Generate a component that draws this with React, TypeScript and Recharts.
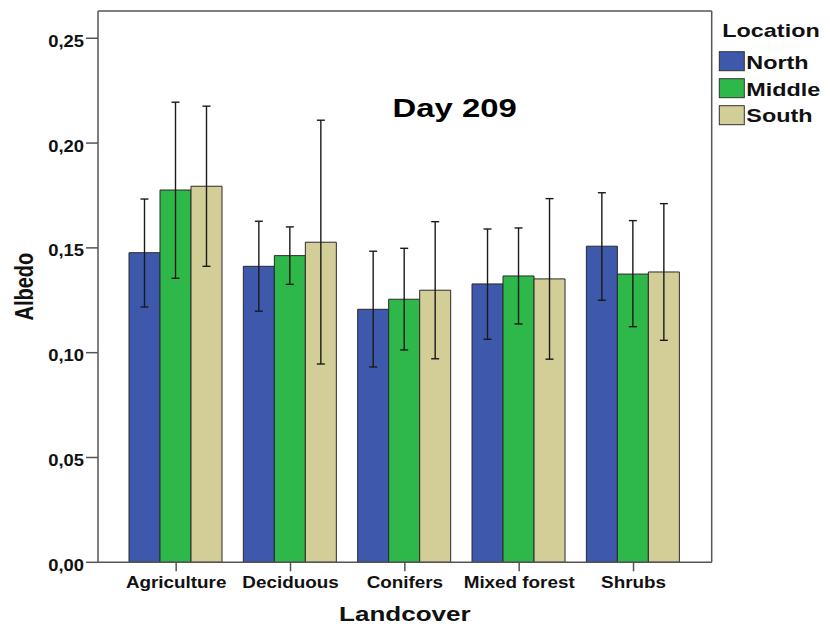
import React from 'react';
import { BarChart, Bar, XAxis, YAxis, ErrorBar } from 'recharts';

const TITLE = 'Day 209';
const X_TITLE = 'Landcover';
const Y_TITLE = 'Albedo';
const LEGEND_TITLE = 'Location';

const categories = ['Agriculture', 'Deciduous', 'Conifers', 'Mixed forest', 'Shrubs'];
const seriesNames = ['North', 'Middle', 'South'];
const seriesColors = ['#3e58ac', '#2fb84a', '#d3ce98'];

const northMean = [0.1477, 0.1412, 0.1207, 0.1328, 0.1508];
const northLow = [0.1218, 0.1198, 0.0932, 0.1064, 0.1250];
const northHigh = [0.1733, 0.1627, 0.1484, 0.1590, 0.1763];

const middleMean = [0.1776, 0.1463, 0.1255, 0.1366, 0.1375];
const middleLow = [0.1355, 0.1326, 0.1013, 0.1137, 0.1124];
const middleHigh = [0.2195, 0.1600, 0.1498, 0.1595, 0.1630];

const southMean = [0.1794, 0.1527, 0.1298, 0.1352, 0.1385];
const southLow = [0.1412, 0.0946, 0.0971, 0.0969, 0.1059];
const southHigh = [0.2176, 0.2109, 0.1625, 0.1735, 0.1711];

const yTicks = [0, 0.05, 0.1, 0.15, 0.2, 0.25];

const means = [northMean, middleMean, southMean];
const lows = [northLow, middleLow, southLow];
const highs = [northHigh, middleHigh, southHigh];

const data = categories.map((name, i) => {
  const row: any = { name };
  seriesNames.forEach((s, j) => {
    row[s] = means[j][i];
    row[s + '_err'] = [means[j][i] - lows[j][i], highs[j][i] - means[j][i]];
  });
  return row;
});

const FONT = '"Liberation Sans", Arial, sans-serif';
const AXIS = '#555';

const XTick = (props: any) => {
  const { x, y, payload } = props;
  return (
    <g transform={`translate(${x},${y})`}>
      <text
        transform="scale(1.11,1)"
        dy={15}
        textAnchor="middle"
        fontFamily={FONT}
        fontWeight="bold"
        fontSize={17}
        fill="#111"
      >
        {payload.value}
      </text>
    </g>
  );
};

const YTick = (props: any) => {
  const { x, y, payload } = props;
  return (
    <g transform={`translate(${x},${y})`}>
      <text
        transform="scale(1.15,1)"
        dy={8.5}
        textAnchor="end"
        fontFamily={FONT}
        fontWeight="bold"
        fontSize={16}
        fill="#111"
      >
        {payload.value.toFixed(2).replace('.', ',')}
      </text>
    </g>
  );
};

const XLabel = (props: any) => {
  const vb = props.viewBox || {};
  const cx = vb.x + vb.width / 2;
  const by = vb.y + 59;
  return (
    <g transform={`translate(${cx},${by})`}>
      <text
        transform="scale(1.24,1)"
        textAnchor="middle"
        fontFamily={FONT}
        fontWeight="bold"
        fontSize={21}
        fill="#111"
      >
        {X_TITLE}
      </text>
    </g>
  );
};

const YLabel = (props: any) => {
  const vb = props.viewBox || {};
  const cy = vb.y + vb.height / 2;
  return (
    <g transform={`translate(33,${cy}) scale(1.25,1) rotate(-90)`}>
      <text textAnchor="middle" fontFamily={FONT} fontWeight="bold" fontSize={20} fill="#111">
        {Y_TITLE}
      </text>
    </g>
  );
};

export default function App() {
  return (
    <div style={{ position: 'absolute', left: 0, top: 0, width: 830, height: 628, background: '#fff' }}>
      <BarChart
        width={830}
        height={628}
        data={data}
        margin={{ top: 10, right: 117.3, left: 0, bottom: 5.7 }}
        barCategoryGap={10}
        barGap={0}
      >
        <XAxis
          dataKey="name"
          height={60}
          padding={{ left: 21, right: 21 }}
          tickSize={9}
          tickMargin={2}
          tick={<XTick />}
          axisLine={{ stroke: AXIS, strokeWidth: 1.5 }}
          tickLine={{ stroke: AXIS, strokeWidth: 1.5 }}
          label={<XLabel />}
        />
        <XAxis
          xAxisId="top"
          dataKey="name"
          orientation="top"
          height={1}
          tick={false}
          tickLine={false}
          axisLine={{ stroke: AXIS, strokeWidth: 1.5 }}
        />
        <YAxis
          width={98}
          type="number"
          domain={[0, 0.263]}
          ticks={yTicks}
          interval={0}
          tickSize={12}
          tickMargin={2}
          tick={<YTick />}
          axisLine={{ stroke: AXIS, strokeWidth: 1.5 }}
          tickLine={{ stroke: AXIS, strokeWidth: 1.5 }}
          label={<YLabel />}
        />
        <YAxis
          yAxisId="right"
          orientation="right"
          width={1}
          type="number"
          domain={[0, 0.263]}
          tick={false}
          tickLine={false}
          axisLine={{ stroke: AXIS, strokeWidth: 1.5 }}
        />
        {seriesNames.map((s, j) => (
          <Bar
            key={s}
            dataKey={s}
            fill={seriesColors[j]}
            stroke="#2a2a2a"
            strokeWidth={1}
            isAnimationActive={false}
          >
            <ErrorBar dataKey={s + '_err'} width={4} stroke="#1a1a1a" strokeWidth={1.4} />
          </Bar>
        ))}
      </BarChart>
      <svg
        width={830}
        height={628}
        style={{ position: 'absolute', left: 0, top: 0, pointerEvents: 'none' }}
      >
        <g transform="translate(454.7,117.3) scale(1.24,1)">
          <text textAnchor="middle" fontFamily={FONT} fontWeight="bold" fontSize={26.5} fill="#000">
            {TITLE}
          </text>
        </g>
        <g transform="translate(722.3,37) scale(1.3,1)">
          <text fontFamily={FONT} fontWeight="bold" fontSize={18} fill="#111">
            {LEGEND_TITLE}
          </text>
        </g>
        {seriesNames.map((s, j) => (
          <g key={s}>
            <rect
              x={719.3}
              y={51.7 + j * 27}
              width={25}
              height={19}
              fill={seriesColors[j]}
              stroke="#333"
              strokeWidth={1}
            />
            <g transform={`translate(746.3,${69 + j * 26.7}) scale(1.3,1)`}>
              <text fontFamily={FONT} fontWeight="bold" fontSize={18} fill="#111">
                {s}
              </text>
            </g>
          </g>
        ))}
      </svg>
    </div>
  );
}
